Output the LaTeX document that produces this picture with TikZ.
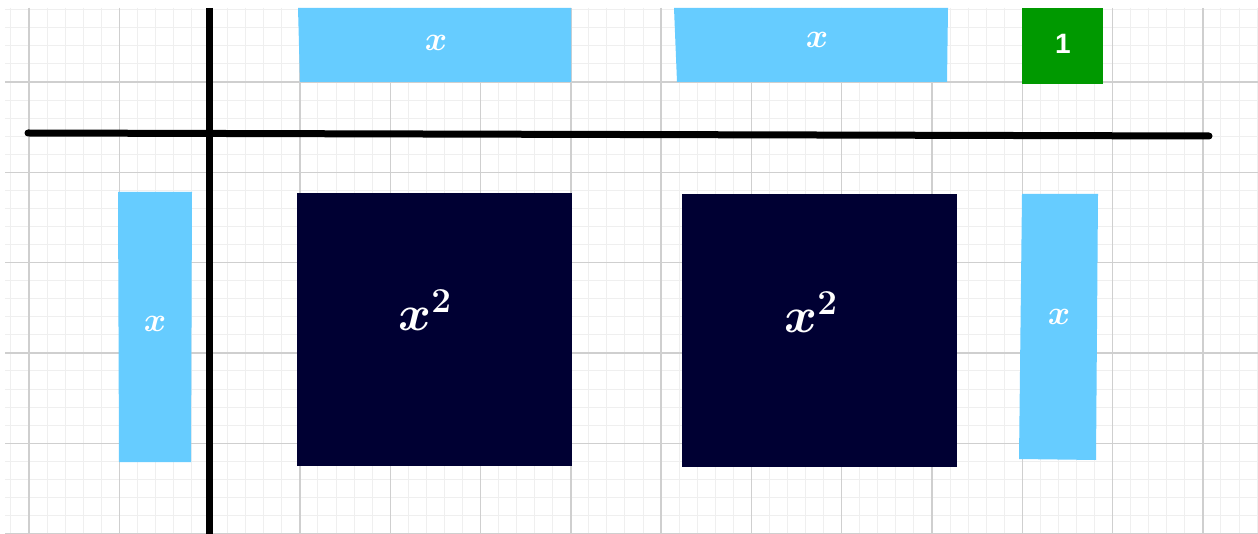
\RequirePackage{fix-cm}
\documentclass[tikz,border=0pt]{standalone}
\usepackage{fontspec}
\usepackage{amsmath,bm}
\newfontfamily\tilesans{Liberation Sans}
\definecolor{tileblue}{HTML}{66CCFF}
\definecolor{tilenavy}{HTML}{000033}
\definecolor{tilegreen}{HTML}{009900}
\definecolor{gridminor}{HTML}{EFEFEF}
\definecolor{gridmajor}{HTML}{CFCFCF}
\tikzset{
  minorline/.style={draw=gridminor, line width=1pt},
  majorline/.style={draw=gridmajor, line width=1.4pt},
  axisline/.style={draw=black, line width=7pt, line cap=round},
  xtile/.style={fill=tileblue},
  sqtile/.style={fill=tilenavy},
  unittile/.style={fill=tilegreen},
  xlab/.style={text=white, inner sep=0pt, font=\fontsize{34}{36}\selectfont},
  sqlab/.style={text=white, inner sep=0pt, font=\fontsize{50}{54}\selectfont},
  onelab/.style={text=white, inner sep=0pt, font=\tilesans\bfseries\fontsize{28}{30}\selectfont}
}
\begin{document}
\begin{tikzpicture}[x=1pt,y=-1pt]
\useasboundingbox (0,0) rectangle (1258,534);
\fill[white] (0,0) rectangle (1258,534);
% grid
\begin{scope}
\clip (5,8) rectangle (1258,534);
\foreach \k in {-1,...,68} \draw[minorline] ({29+\k*18.06},8) -- ({29+\k*18.06},534);
\foreach \k in {-4,...,25} \draw[minorline] (5,{82+\k*18.06}) -- (1258,{82+\k*18.06});
\foreach \k in {0,...,13} \draw[majorline] ({29+\k*90.3},8) -- ({29+\k*90.3},534);
\foreach \k in {0,...,5} \draw[majorline] (5,{82+\k*90.3}) -- (1258,{82+\k*90.3});
\end{scope}
% axes
\coordinate (hl) at (28,133);
\coordinate (hr) at (1209,136);
\coordinate (vt) at (209,8);
\coordinate (vb) at (209,534);
\draw[axisline] (hl) -- (hr);
\draw[axisline, line cap=butt] (vt) -- (vb);
% top tiles
\fill[xtile] (298,8) -- (571,8) -- (571,82) -- (300,82) -- cycle;
\node[xlab] (topx1) at (436,43) {$\bm{x}$};
\fill[xtile] (674,8) -- (948,8) -- (947,82) -- (677,82) -- cycle;
\node[xlab] (topx2) at (817,40) {$\bm{x}$};
\fill[unittile] (1022,8) rectangle (1103,84);
\node[onelab] (one) at (1063,44) {1};
% left tile
\fill[xtile] (118,192) -- (192,192) -- (191,462) -- (119,462) -- cycle;
\node[xlab] (leftx) at (155,324) {$\bm{x}$};
% squares
\fill[sqtile] (297,193) rectangle (572,466);
\node[sqlab] (sq1) at (425,310) {$\bm{x^2}$};
\fill[sqtile] (682,194) rectangle (957,467);
\node[sqlab] (sq2) at (811,312) {$\bm{x^2}$};
% right tile
\fill[xtile] (1022,194) -- (1098,194) -- (1096,460) -- (1019,459) -- cycle;
\node[xlab] (rightx) at (1059,317) {$\bm{x}$};
\end{tikzpicture}
\end{document}
